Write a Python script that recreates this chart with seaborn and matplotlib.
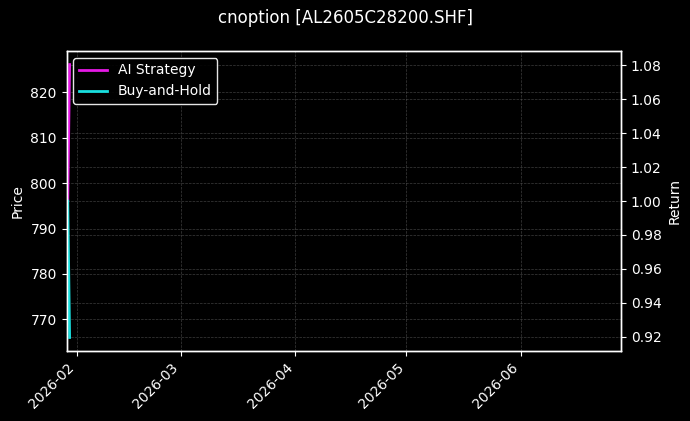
import matplotlib
matplotlib.use("Agg")
import matplotlib.pyplot as plt
import matplotlib.dates as mdates
import pandas as pd
import seaborn as sns

# ---- data ----
dates = ["2026-01-29 12:00", "2026-01-30 00:00"]
ai_strategy = [1.0, 1.0805]
buy_and_hold = [1.0, 0.9195]
price_ylim = (763.0, 829.1)
x_range = ("2026-01-29 04:00", "2026-06-28 00:00")
title = "cnoption [AL2605C28200.SHF]"

df = pd.DataFrame({
    "date": pd.to_datetime(dates * 2),
    "value": ai_strategy + buy_and_hold,
    "series": ["AI Strategy"] * len(dates) + ["Buy-and-Hold"] * len(dates),
})

plt.style.use("dark_background")
plt.rcParams.update({
    "font.family": ["DejaVu Sans"],
    "font.size": 10,
    "axes.linewidth": 1.0,
    "xtick.labelsize": 10,
    "ytick.labelsize": 10,
    "axes.labelsize": 10,
    "legend.fontsize": 10,
})

fig = plt.figure(figsize=(6.9, 4.21), dpi=100)
ax = fig.add_axes([0.0964, 0.166, 0.9 - 0.0964, 0.879 - 0.166])
ax.set_ylim(*price_ylim)
ax.set_ylabel("Price")
ax.grid(True, color="#666666", linestyle="--", linewidth=0.5, alpha=0.6)

ax2 = ax.twinx()
sns.lineplot(data=df, x="date", y="value", hue="series",
             palette={"AI Strategy": "#e619e6", "Buy-and-Hold": "#19e0e0"},
             linewidth=2, ax=ax2, legend=True)
ax2.set_ylabel("Return")
ax2.set_xlabel("")
ax2.grid(True, color="#666666", linestyle="--", linewidth=0.5, alpha=0.6)
ax2.set_xlim(pd.Timestamp(x_range[0]), pd.Timestamp(x_range[1]))

ax.xaxis.set_major_locator(mdates.MonthLocator())
ax.xaxis.set_major_formatter(mdates.DateFormatter("%Y-%m"))
for lbl in ax.get_xticklabels():
    lbl.set_rotation(45)
    lbl.set_ha("right")
ax.set_xlabel("")

leg = ax2.legend(loc="upper left", frameon=True, facecolor="black",
                 edgecolor="white")
leg.get_frame().set_alpha(0.9)
for line in leg.get_lines():
    line.set_linewidth(2)

fig.suptitle(title, fontsize=12, y=0.978)

fig.savefig("out.png", dpi=100, facecolor="black")
